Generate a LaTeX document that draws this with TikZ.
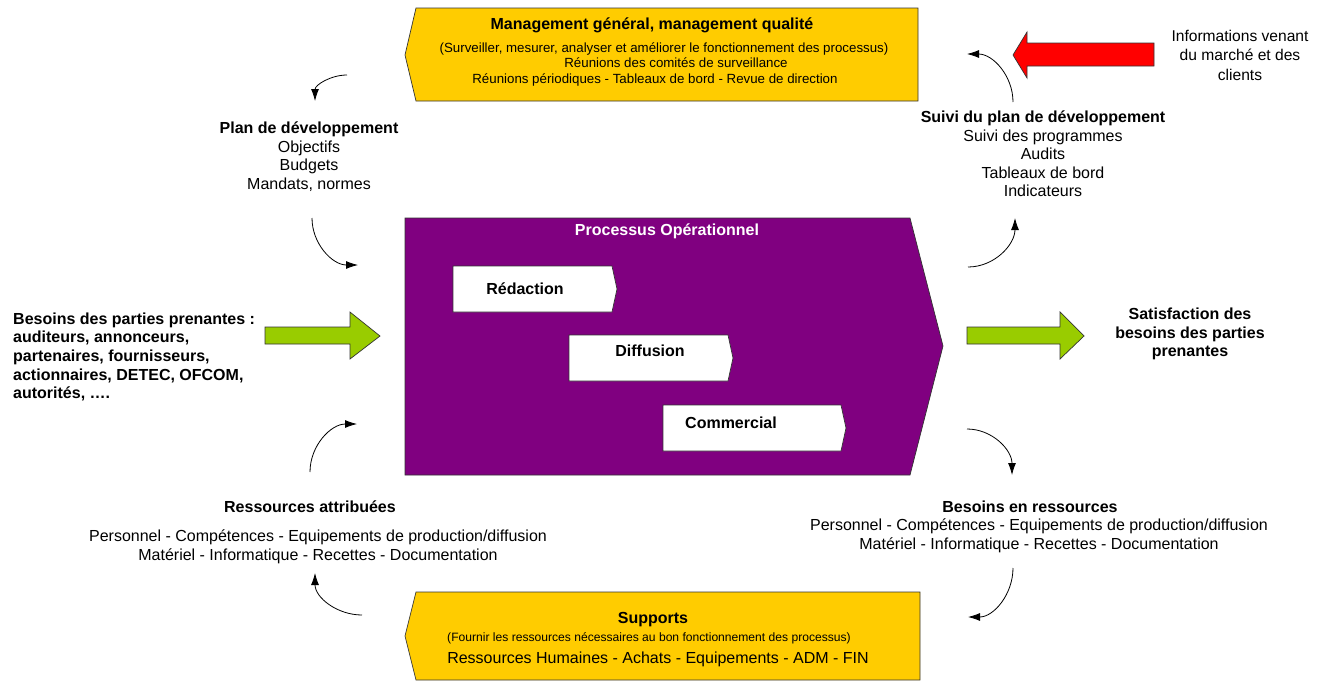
\documentclass[tikz,border=0pt]{standalone}
\usepackage{fontspec}
\setmainfont{Liberation Sans}
\usetikzlibrary{arrows.meta}
\definecolor{ybox}{HTML}{FFCC00}
\definecolor{pbox}{HTML}{800080}
\definecolor{garrow}{HTML}{99CC00}
\definecolor{rarrow}{HTML}{FF0000}
\definecolor{edge}{HTML}{333333}
\begin{document}
\begin{tikzpicture}[x=1pt,y=1pt,
  txt/.style={font=\fontsize{16}{18.6}\selectfont, align=center, inner sep=0pt},
  btxt/.style={font=\fontsize{16}{18.6}\selectfont\bfseries, align=center, inner sep=0pt},
  smalltxt/.style={font=\fontsize{13.3}{15.5}\selectfont, align=center, inner sep=0pt},
  shapeline/.style={draw=edge, line width=0.7pt},
  curv/.style={-{Latex[length=12pt,width=8pt]}, line width=0.8pt, black}]
\useasboundingbox (0,0) rectangle (1328,-683);

% ---- shapes ----
\path[shapeline, fill=ybox] (416,-8) -- (918,-8) -- (918,-101) -- (416,-101) -- (405,-55) -- cycle;
\path[shapeline, fill=ybox] (416,-592) -- (920,-592) -- (920,-680) -- (416,-680) -- (405,-636) -- cycle;
\path[shapeline, fill=pbox] (405,-218) -- (910,-218) -- (943,-346) -- (910,-475) -- (405,-475) -- cycle;
\path[shapeline, fill=white] (453,-266) -- (612,-266) -- (617,-289) -- (612,-312) -- (453,-312) -- cycle;
\path[shapeline, fill=white] (569,-335) -- (728,-335) -- (733,-358) -- (728,-381) -- (569,-381) -- cycle;
\path[shapeline, fill=white] (663,-405) -- (841,-405) -- (846,-428) -- (841,-451) -- (663,-451) -- cycle;
% block arrows
\path[shapeline, fill=garrow] (265,-327) -- (350,-327) -- (350,-312) -- (380,-336) -- (350,-359) -- (350,-344) -- (265,-344) -- cycle;
\path[shapeline, fill=garrow] (967,-327) -- (1060,-327) -- (1060,-312) -- (1084,-336) -- (1060,-359) -- (1060,-344) -- (967,-344) -- cycle;
\path[shapeline, fill=rarrow] (1154,-43) -- (1027,-43) -- (1027,-32) -- (1013,-55) -- (1027,-78) -- (1027,-66) -- (1154,-66) -- cycle;

% ---- texts ----
\node[btxt] (mgmtT) at (652,-25) {Management général, management qualité};
\node[smalltxt] (mgmt) at (664,-64) {(Surveiller, mesurer, analyser et améliorer le fonctionnement des processus)\\\hspace*{24pt}Réunions des comités de surveillance\\Réunions périodiques - Tableaux de bord - Revue de direction\hspace*{18pt}};
\node[txt, font=\fontsize{15.6}{19.5}\selectfont] (info) at (1240,-55) {Informations venant\\du marché et des\\clients};
\node[txt] (plan) at (309,-156.5) {\textbf{Plan de développement}\\Objectifs\\Budgets\\Mandats, normes};
\node[txt] (suivi) at (1043,-154) {\textbf{Suivi du plan de développement}\\Suivi des programmes\\Audits\\Tableaux de bord\\Indicateurs};
\node[btxt, align=left, anchor=west] (besoins) at (13,-357) {Besoins des parties prenantes :\\auditeurs, annonceurs,\\partenaires, fournisseurs,\\actionnaires, DETEC, OFCOM,\\autorités, ….};
\node[btxt] (satisf) at (1190,-334) {Satisfaction des\\besoins des parties\\prenantes};
\node[font=\fontsize{16}{18}\selectfont\bfseries, text=white, inner sep=0pt] (procT) at (667,-231) {Processus Opérationnel};
\node[btxt] (redac) at (525,-289) {Rédaction};
\node[btxt] (diff) at (650,-351) {Diffusion};
\node[btxt] (comm) at (731,-423) {Commercial};
\node[btxt] (attrT) at (310,-507) {Ressources attribuées};
\node[txt] (attr) at (318,-546.5) {Personnel - Compétences - Equipements de production/diffusion\\Matériel - Informatique - Recettes - Documentation};
\node[btxt] (besT) at (1030,-507) {Besoins en ressources};
\node[txt] (bes) at (1039,-535.5) {Personnel - Compétences - Equipements de production/diffusion\\Matériel - Informatique - Recettes - Documentation};
\node[btxt] (suppT) at (653,-620) {Supports};
\node[smalltxt, font=\fontsize{12.1}{14}\selectfont] (suppS) at (649,-638) {(Fournir les ressources nécessaires au bon fonctionnement des processus)};
\node[txt] (supp) at (658,-659) {Ressources Humaines - Achats - Equipements - ADM - FIN};

% ---- curved arrows ----
\coordinate (a1s) at (347,-75);  \coordinate (a1e) at (315,-101);
\coordinate (a2s) at (312,-218); \coordinate (a2e) at (358,-265);
\coordinate (a3s) at (310,-472); \coordinate (a3e) at (357,-424);
\coordinate (a4s) at (362,-615); \coordinate (a4e) at (315,-573);
\coordinate (a5s) at (1013,-102); \coordinate (a5e) at (967,-54);
\coordinate (a6s) at (968,-267); \coordinate (a6e) at (1015,-218);
\coordinate (a7s) at (967,-429); \coordinate (a7e) at (1012,-475);
\coordinate (a8s) at (1013,-568); \coordinate (a8e) at (968,-617);
\draw[curv] (a1s) to[out=180,in=90] (a1e);
\draw[curv] (a2s) to[out=-90,in=180] (a2e);
\draw[curv] (a3s) to[out=90,in=180] (a3e);
\draw[curv] (a4s) to[out=180,in=-90] (a4e);
\draw[curv] (a5s) to[out=90,in=0] (a5e);
\draw[curv] (a6s) to[out=0,in=-90] (a6e);
\draw[curv] (a7s) to[out=0,in=90] (a7e);
\draw[curv] (a8s) to[out=-90,in=0] (a8e);
\end{tikzpicture}
\end{document}
